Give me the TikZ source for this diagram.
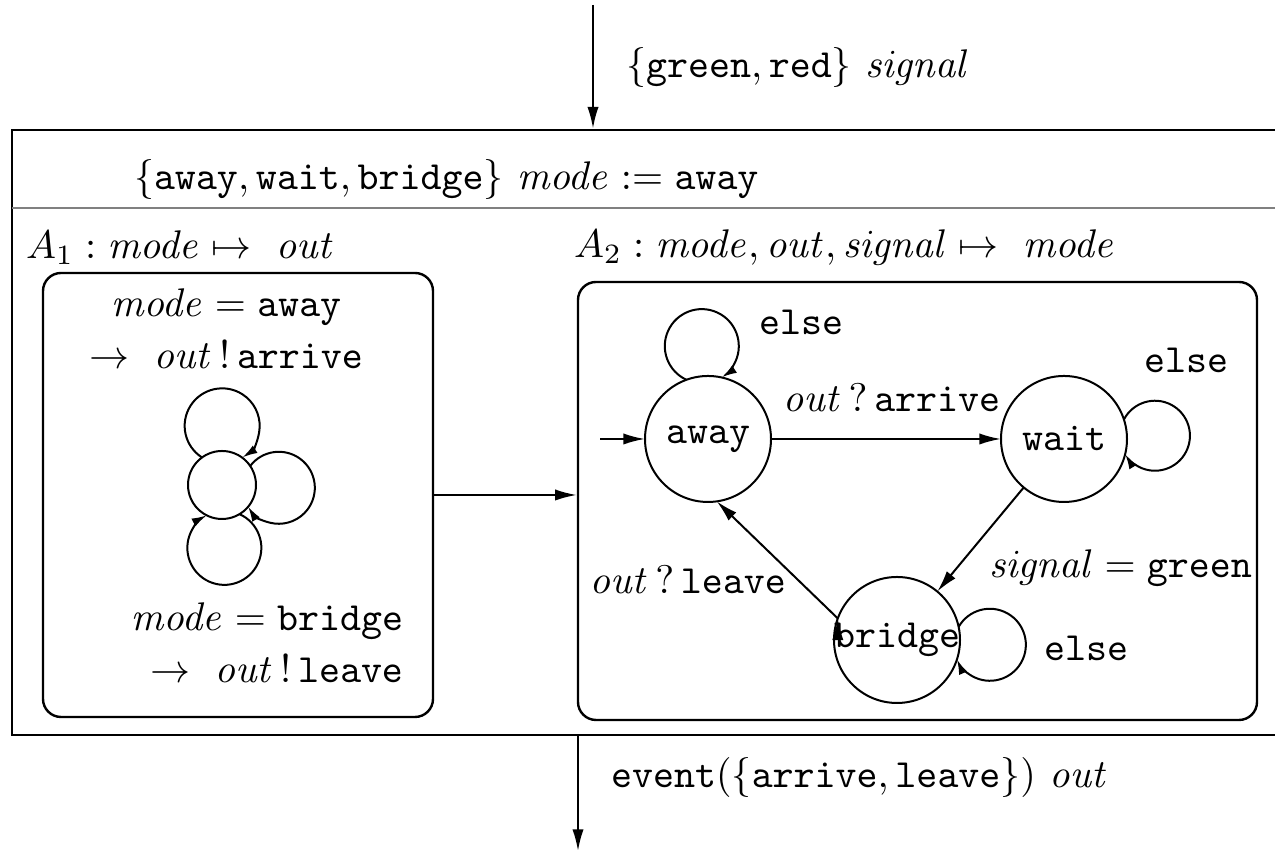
\documentclass[tikz,border=0pt]{standalone}
\usepackage{tikz}
\usetikzlibrary{positioning,arrows.meta,fit}
\tikzset{>={Latex[width=2.8pt,length=5.4pt]}}

\begin{document}
\begin{tikzpicture}[x=0.25pt,y=0.25pt,line width=0.5pt,node distance=89pt,on grid,
    state/.style={circle,draw,minimum size=31.5pt,inner sep=0pt,outer sep=0pt,font=\ttfamily},
    dot/.style={circle,draw,minimum size=17pt,inner sep=0pt,outer sep=0pt},
    module/.style={draw,rounded corners=4.5pt,line width=0.6pt,inner sep=0pt},
    txt/.style={inner sep=0pt},
    loopedge/.style={-{Latex[width=2.2pt,length=3.8pt]}}]
    \useasboundingbox (0,0) rectangle (1275,853);

    % system frame
    \coordinate (sysSW) at (12,118);
    \coordinate (sysNE) at (1290,723);
    \node (sys) [fit=(sysSW)(sysNE),draw,line width=0.7pt,inner sep=0pt] {};
    \coordinate (div) at (12,645);
    \draw[gray,line width=0.5pt] (div) -- (div -| sys.east);

    \coordinate (sigin) at (593,848);
    \coordinate (outpt) at (578,2);
    \draw[->] (sigin) -- (sigin |- sys.north);
    \draw[->] (sys.south -| outpt) -- (outpt);
    \node (siglabel) [txt,anchor=west] at (625,785) {$\{\mathtt{green},\mathtt{red}\}\ \mathit{signal}$};
    \node (evlabel) [txt,anchor=west] at (610,75) {$\mathtt{event}(\{\mathtt{arrive},\mathtt{leave}\})\ \mathit{out}$};
    \node (decl) [txt,anchor=west] at (133,673) {$\{\mathtt{away},\mathtt{wait},\mathtt{bridge}\}\ \mathit{mode} := \mathtt{away}$};

    % A1
    \node (A1head) [txt,anchor=west] at (25,605) {$A_1:\mathit{mode}\mapsto\ \mathit{out}$};
    \coordinate (a1SW) at (43,136);
    \coordinate (a1NE) at (433,580);
    \node (A1box) [module,fit=(a1SW)(a1NE)] {};
    \node (guard1) [txt,align=center] at (226,524) {$\mathit{mode}=\mathtt{away}$\\[1pt] $\rightarrow\ \mathit{out}\,!\,\mathtt{arrive}$};
    \node (guard2) [txt,align=right,anchor=east] at (404,210) {$\mathit{mode}=\mathtt{bridge}$\\[1pt] $\rightarrow\ \mathit{out}\,!\,\mathtt{leave}$};
    \node (m) [dot] at (222,368) {};
    \draw[loopedge] (m.126) arc[start angle=237.5,end angle=-57.5,radius=37.5];
    \draw[loopedge] (m.34) arc[start angle=142.7,end angle=-148.7,radius=36];
    \draw[loopedge] (m.-59) arc[start angle=65.8,end angle=-241.8,radius=37];

    % A2
    \node (A2head) [txt,anchor=west] at (573,605) {$A_2:\mathit{mode},\mathit{out},\mathit{signal}\mapsto\ \mathit{mode}$};
    \coordinate (a2SW) at (578,133);
    \coordinate (a2NE) at (1257,571);
    \node (A2box) [module,fit=(a2SW)(a2NE)] {};
    \draw[->] (A1box.east) -- (A1box.east -| A2box.west);

    \node (away) [state] at (708,414) {away};
    \node (wait) [state,right=of away] {wait};
    \node (bridge) [state,below right=50.25pt and 47.25pt of away] {\makebox[0pt]{bridge}};
    \coordinate (init) at (600,414);
    \draw[->] (init) -- (away);

    \draw[->]
    (away)        edge node[txt,midway,anchor=south,yshift=6.5pt,xshift=1.4pt] {$\mathit{out}\,?\,\mathtt{arrive}$} (wait)
    (wait)        edge node[txt,pos=0.77,anchor=west,xshift=7.75pt] {$\mathit{signal}=\mathtt{green}$} (bridge)
    (bridge.160)  edge node[txt,pos=0.33,anchor=east,xshift=-2.75pt] {$\mathit{out}\,?\,\mathtt{leave}$} (away.-82);

    \draw[loopedge] (away.110) arc[start angle=245.5,end angle=-57.5,radius=37];
    \draw[loopedge] (wait.18) arc[start angle=152.4,end angle=-148.4,radius=35];
    \draw[loopedge] (bridge.12) arc[start angle=150.2,end angle=-156.2,radius=36];
    \node (else1) [txt,anchor=west] at (758,531) {\texttt{else}};
    \node (else2) [txt,anchor=west] at (1143,493) {\texttt{else}};
    \node (else3) [txt,anchor=west] at (1043,205) {\texttt{else}};
\end{tikzpicture}
\end{document}
